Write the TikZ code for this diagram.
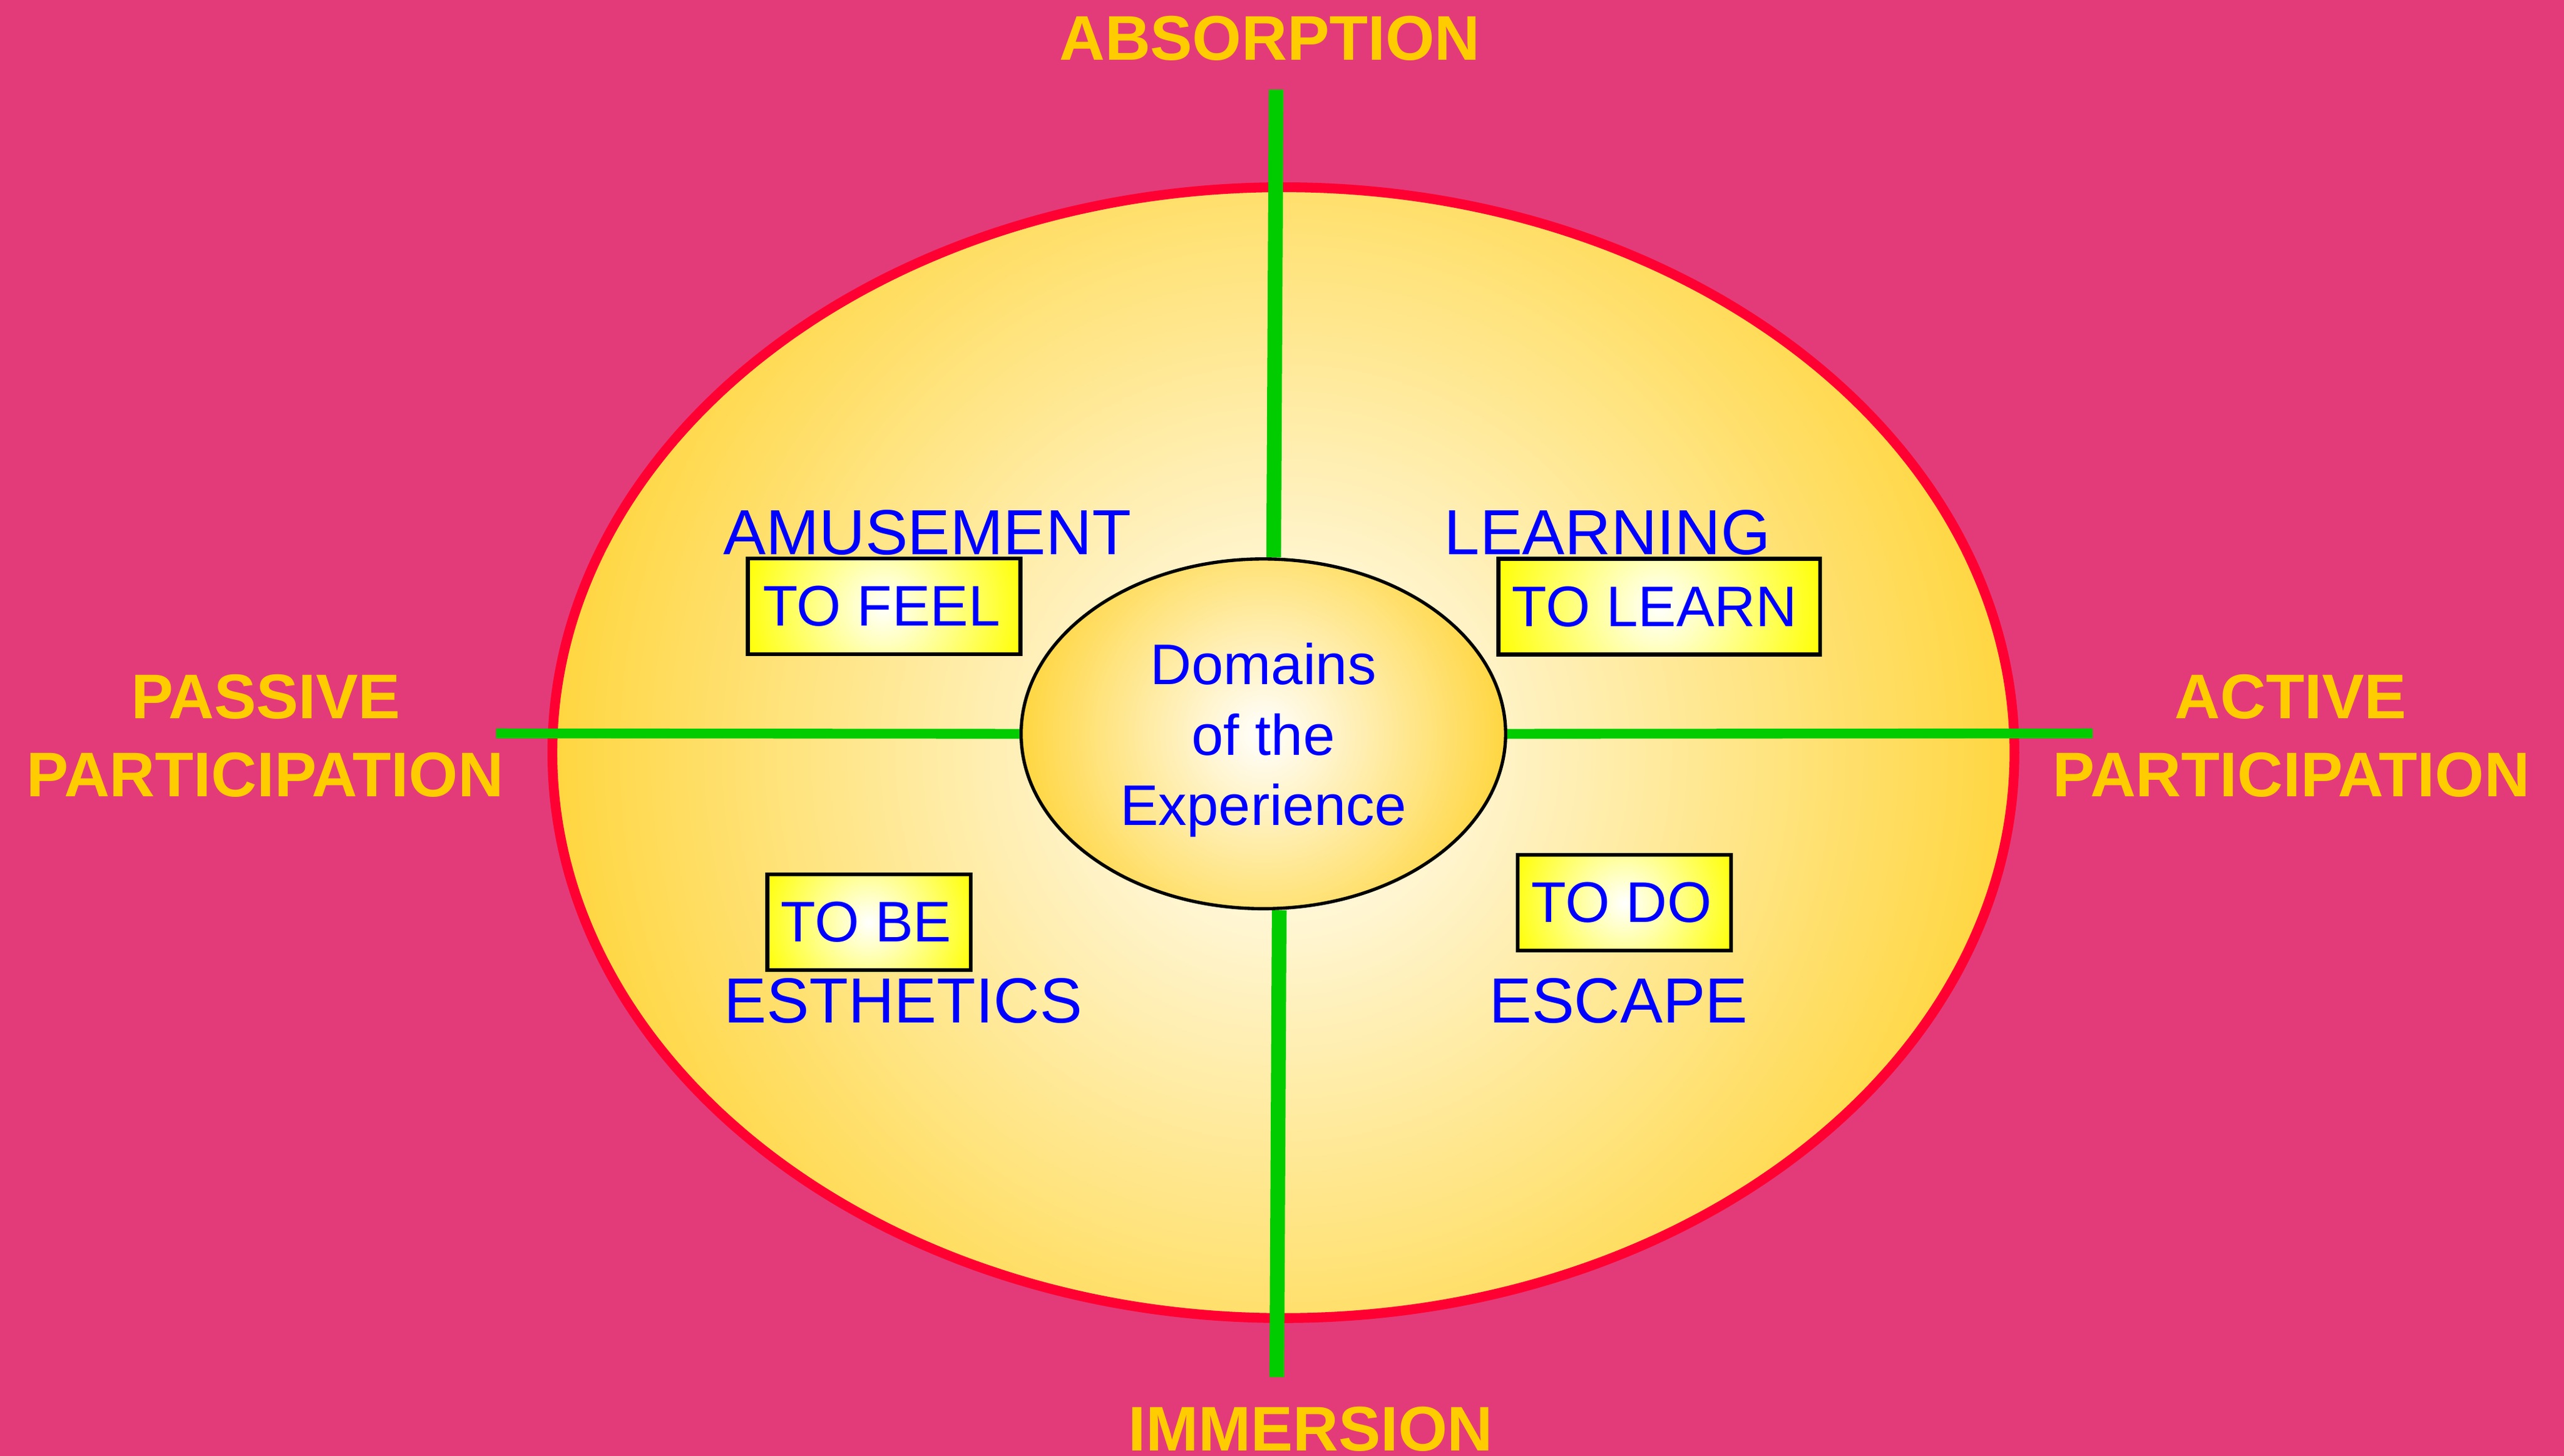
\documentclass[tikz,border=0pt]{standalone}
\usepackage{fontspec}
\setmainfont{Liberation Sans}
\usetikzlibrary{shapes.geometric,calc}
\definecolor{bgpink}{RGB}{227,59,121}
\definecolor{ylab}{RGB}{255,204,0}
\definecolor{ringred}{RGB}{255,0,51}
\definecolor{axisgreen}{RGB}{0,204,0}
\definecolor{txtblue}{RGB}{0,0,255}
\definecolor{goldedge}{RGB}{255,214,64}
\definecolor{boxyellow}{RGB}{255,255,0}
\pgfdeclareradialshading{goldshade}{\pgfpoint{0bp}{0bp}}{color(0bp)=(white); color(25bp)=(goldedge); color(50bp)=(goldedge)}
\pgfdeclareradialshading{boxshade}{\pgfpoint{0bp}{0bp}}{color(0bp)=(white); color(25bp)=(boxyellow); color(50bp)=(boxyellow)}
\tikzset{
  bigring/.style={ellipse, line width=6pt, minimum width=894.1pt, minimum height=691.6pt, inner sep=0pt,
    path picture={\shade[shading=goldshade] (path picture bounding box.center) circle (447pt);},
    postaction={draw=ringred}},
  centreoval/.style={ellipse, line width=2pt, minimum width=296.3pt, minimum height=213.9pt, inner sep=0pt,
    align=center, text=txtblue, font=\fontsize{35}{43}\selectfont,
    path picture={\shade[shading=goldshade] (path picture bounding box.center) circle (149pt);},
    postaction={draw=black}},
  tobox/.style={rectangle, line width=2.4pt, minimum height=58.6pt, inner sep=0pt,
    text=txtblue, font=\fontsize{35}{42}\selectfont,
    path picture={\shade[shading=boxshade] (path picture bounding box.center) circle (#1);},
    postaction={draw=black}},
  plabel/.style={text=ylab, font=\fontsize{38.6}{46}\selectfont\bfseries, inner sep=0pt, anchor=base},
  qlabel/.style={text=txtblue, font=\fontsize{39}{47}\selectfont, inner sep=0pt, anchor=base},
  axisv/.style={draw=axisgreen, line width=9pt},
  axish/.style={draw=axisgreen, line width=6pt}
}
\begin{document}
\begin{tikzpicture}[x=1pt,y=-1pt]
\useasboundingbox (0,0) rectangle (1568,890.45);
\fill[bgpink] (0,0) rectangle (1568,890.45);
% outer ring
\node[bigring] (big) at (784.85,460.3) {};
% axis labels
\node[plabel] (absorption) at (776.5,36.7) {ABSORPTION};
\node[plabel] (immersion) at (801.5,887.4) {IMMERSION};
\node[plabel] (passive1) at (162.6,439.4) {PASSIVE};
\node[plabel] (passive2) at (162.1,487.1) {PARTICIPATION};
\node[plabel] (active1) at (1400.7,439.4) {ACTIVE};
\node[plabel] (active2) at (1401.2,487.1) {PARTICIPATION};
% quadrant labels
\node[qlabel] (amuse) at (567.1,339.1) {AMUSEMENT};
\node[qlabel] (learning) at (983,339.1) {LEARNING};
\node[qlabel] (esthetics) at (552.4,625.5) {ESTHETICS};
\node[qlabel] (escape) at (989.85,625.5) {ESCAPE};
% boxes
\node[tobox=89.9pt, minimum width=166.7pt] (feel) at (540.65,370.9) {TO FEEL\kern2.9pt};
\node[tobox=104.1pt, minimum width=196.7pt] (learn) at (1014.65,371) {TO LEARN\kern5.5pt};
\node[tobox=70.3pt, minimum width=124.4pt] (tobe) at (531.5,564.05) {TO BE\kern3.7pt};
\node[tobox=73pt, minimum width=130.4pt] (todo) at (993.4,552.1) {TO DO\kern3.3pt};
% centre
\node[centreoval] (dom) at (772.6,448.8) {\rule{0pt}{33pt}Domains\\of the\\Experience};
% axes
\coordinate (atop) at (780.4,54.8);
\coordinate (abot) at (780.8,842.2);
\coordinate (pleft) at (303.4,448.5);
\coordinate (pright) at (1279.7,448.5);
\draw[axisv] (atop) -- ($(dom.north)+(6.3,0)$);
\draw[axisv] ($(dom.south)+(9.7,0)$) -- (abot);
\draw[axish] (pleft) -- (dom.west);
\draw[axish] (dom.east) -- (pright);
\end{tikzpicture}
\end{document}
